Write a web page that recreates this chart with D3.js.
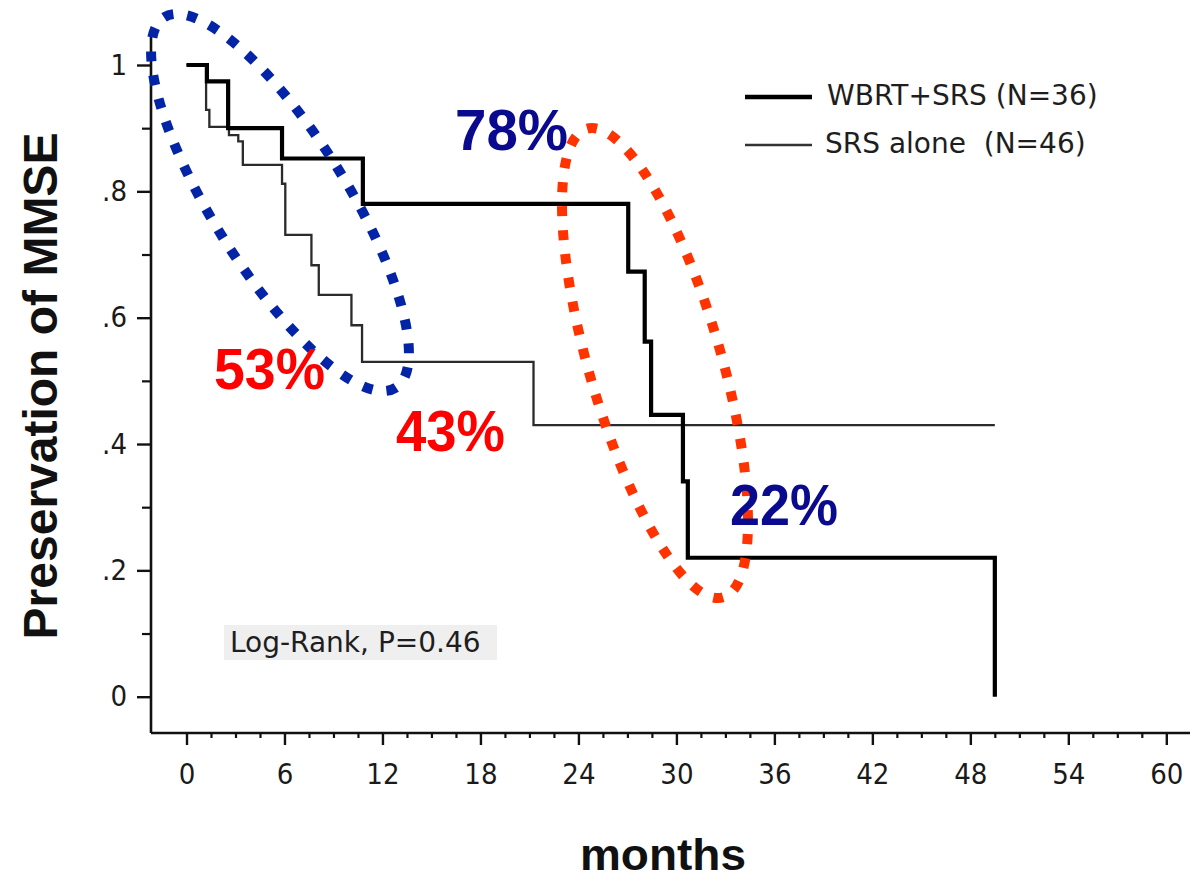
<!DOCTYPE html>
<html>
<head>
<meta charset="utf-8">
<script src="https://cdn.jsdelivr.net/npm/d3@7"></script>
<style>
  body { margin: 0; background: #fff; }
  svg { display: block; }
</style>
</head>
<body>
<svg id="chart" width="1202" height="882"></svg>
<script>
// Kaplan-Meier estimates of MMSE preservation (months, fraction preserved)
const wbrtMonths = [0, 1.25, 2.55, 5.85, 10.8, 27.05, 28.06, 28.45, 30.4, 30.7, 49.5];
const wbrtSurv   = [1, 0.974, 0.90, 0.852, 0.78, 0.673, 0.562, 0.446, 0.341, 0.22, 0];

const srsMonths = [0, 1.2, 1.4, 2.6, 3.17, 3.45, 5.85, 6.05, 7.65, 8.1, 10.1, 10.75, 21.25, 49.5];
const srsSurv   = [1, 0.929, 0.902, 0.889, 0.879, 0.842, 0.812, 0.731, 0.683, 0.636, 0.588, 0.53, 0.43, 0.43];

const seriesNames = ["WBRT+SRS (N=36)", "SRS alone  (N=46)"];

const xMajorTicks = [0, 6, 12, 18, 24, 30, 36, 42, 48, 54, 60];
const xMinorTicks = d3.range(0, 60.01, 1.5).filter(m => m % 6 !== 0);
const yMajorTicks = [0, 0.2, 0.4, 0.6, 0.8, 1];
const yTickLabels = ["0", ".2", ".4", ".6", ".8", "1"];
const yMinorTicks = [0.1, 0.3, 0.5, 0.7, 0.9];

const svg = d3.select("#chart");

const x = d3.scaleLinear().domain([0, 60]).range([186.5, 1166.3]);
const y = d3.scaleLinear().domain([0, 1]).range([696.7, 65]);

const axisX = 151, axisY = 733;

// Frame lines
svg.append("line").attr("x1", axisX).attr("x2", axisX).attr("y1", 35).attr("y2", axisY)
  .attr("stroke", "#111").attr("stroke-width", 2.6);
svg.append("line").attr("x1", axisX).attr("x2", 1190).attr("y1", axisY).attr("y2", axisY)
  .attr("stroke", "#111").attr("stroke-width", 2.6);

// X axis
const gx = svg.append("g").attr("transform", `translate(0,${axisY})`)
  .call(d3.axisBottom(x).tickValues(xMajorTicks).tickSize(12).tickPadding(18).tickFormat(d => String(d)));
gx.select(".domain").remove();
gx.selectAll(".tick line").attr("stroke", "#111").attr("stroke-width", 2.4);
gx.selectAll(".tick text").attr("font-family", "'DejaVu Sans Condensed', 'DejaVu Sans', sans-serif")
  .attr("font-size", 29).attr("fill", "#1a1a1a");

const gxMinor = svg.append("g").attr("transform", `translate(0,${axisY})`)
  .call(d3.axisBottom(x).tickValues(xMinorTicks).tickSize(5).tickFormat(""));
gxMinor.select(".domain").remove();
gxMinor.selectAll(".tick line").attr("stroke", "#111").attr("stroke-width", 2.2);

// Y axis
const gy = svg.append("g").attr("transform", `translate(${axisX},0)`)
  .call(d3.axisLeft(y).tickValues(yMajorTicks).tickSize(14).tickPadding(10)
    .tickFormat((d, i) => yTickLabels[i]));
gy.select(".domain").remove();
gy.selectAll(".tick line").attr("stroke", "#111").attr("stroke-width", 2.4);
gy.selectAll(".tick text").attr("font-family", "'DejaVu Sans Condensed', 'DejaVu Sans', sans-serif")
  .attr("font-size", 29).attr("fill", "#1a1a1a");

const gyMinor = svg.append("g").attr("transform", `translate(${axisX},0)`)
  .call(d3.axisLeft(y).tickValues(yMinorTicks).tickSize(9).tickFormat(""));
gyMinor.select(".domain").remove();
gyMinor.selectAll(".tick line").attr("stroke", "#111").attr("stroke-width", 2.2);

// Survival step curves
const step = d3.line().x(d => x(d[0])).y(d => y(d[1])).curve(d3.curveStepAfter);
const srsData = srsMonths.map((m, i) => [m, srsSurv[i]]);
const wbrtData = wbrtMonths.map((m, i) => [m, wbrtSurv[i]]);

svg.append("path").datum(srsData).attr("d", step)
  .attr("fill", "none").attr("stroke", "#2b2b2b").attr("stroke-width", 2.3);
svg.append("path").datum(wbrtData).attr("d", step)
  .attr("fill", "none").attr("stroke", "#000").attr("stroke-width", 4.2);

// Legend
const legend = svg.append("g").attr("font-family", "'DejaVu Sans', sans-serif").attr("font-size", 28).attr("fill", "#1e1e1e");
legend.append("line").attr("x1", 745).attr("x2", 812).attr("y1", 97).attr("y2", 97)
  .attr("stroke", "#000").attr("stroke-width", 4.5);
legend.append("text").attr("x", 827).attr("y", 105).text(seriesNames[0]);
legend.append("line").attr("x1", 745).attr("x2", 812).attr("y1", 145).attr("y2", 145)
  .attr("stroke", "#333").attr("stroke-width", 2.6);
legend.append("text").attr("x", 825).attr("y", 153).style("white-space", "pre").text(seriesNames[1]);

// Log-rank note
svg.append("rect").attr("x", 224).attr("y", 625).attr("width", 273).attr("height", 35).attr("fill", "#efefef");
svg.append("text").attr("x", 230).attr("y", 651.5)
  .attr("font-family", "'DejaVu Sans', sans-serif").attr("font-size", 28).attr("fill", "#1e1e1e")
  .text("Log-Rank, P=0.46");

// Dotted highlight ellipses
const ellipses = [
  { cx: 280, cy: 202.5, rx: 218.4, ry: 67, angle: 58, color: "#0424a8" },
  { cx: 655, cy: 363, rx: 244, ry: 66, angle: 73.8, color: "#ff3300" }
];
svg.selectAll("ellipse.hl").data(ellipses).enter().append("ellipse")
  .attr("class", "hl")
  .attr("cx", d => d.cx).attr("cy", d => d.cy).attr("rx", d => d.rx).attr("ry", d => d.ry)
  .attr("transform", d => `rotate(${d.angle},${d.cx},${d.cy})`)
  .attr("fill", "none").attr("stroke", d => d.color)
  .attr("stroke-width", 10).attr("stroke-dasharray", "10 14");

// Percentage call-outs
const bold = "'Liberation Sans', Arial, sans-serif";
const callouts = [
  { text: "78%", x: 455, y: 150, w: 113, color: "#0a0a8e" },
  { text: "53%", x: 214, y: 389, w: 111, color: "#ff0000" },
  { text: "43%", x: 396, y: 451, w: 109, color: "#ff0000" },
  { text: "22%", x: 730, y: 525, w: 108, color: "#0a0a8e" }
];
svg.selectAll("text.callout").data(callouts).enter().append("text")
  .attr("class", "callout")
  .attr("x", d => d.x).attr("y", d => d.y)
  .attr("textLength", d => d.w).attr("lengthAdjust", "spacingAndGlyphs")
  .attr("font-family", bold).attr("font-weight", "bold").attr("font-size", 58)
  .attr("fill", d => d.color).text(d => d.text);

// Axis titles
svg.append("text").attr("x", 663).attr("y", 870).attr("text-anchor", "middle")
  .attr("font-family", bold).attr("font-weight", "bold").attr("font-size", 45)
  .attr("textLength", 166).attr("lengthAdjust", "spacingAndGlyphs")
  .attr("fill", "#111").text("months");
svg.append("text").attr("transform", "translate(57,386) rotate(-90)").attr("text-anchor", "middle")
  .attr("font-family", bold).attr("font-weight", "bold").attr("font-size", 48)
  .attr("fill", "#111").text("Preservation of MMSE");
</script>
</body>
</html>
